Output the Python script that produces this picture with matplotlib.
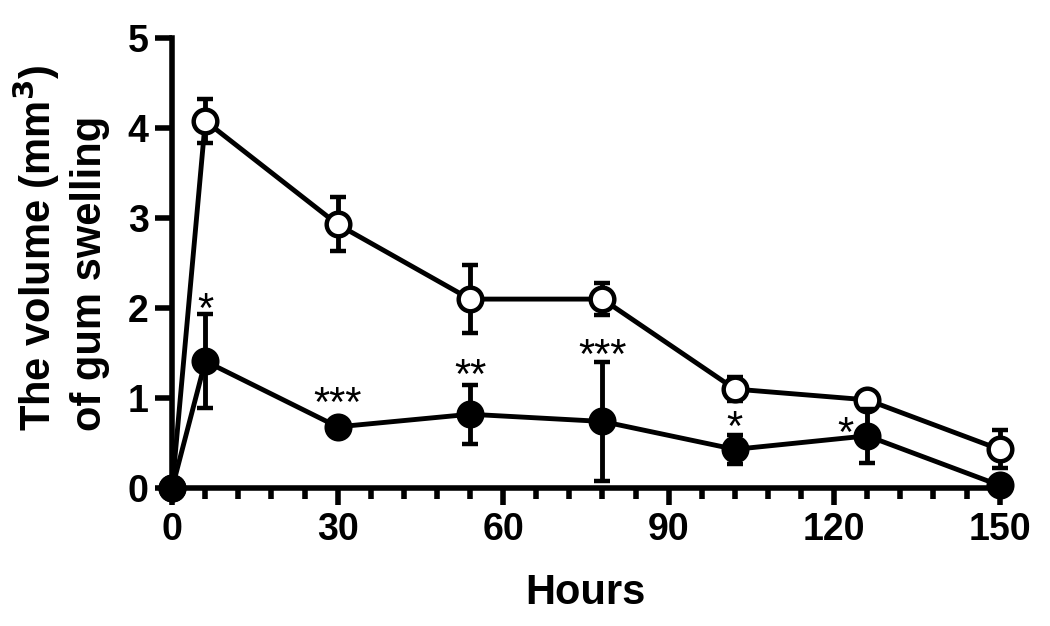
import matplotlib
matplotlib.use("Agg")
import matplotlib.pyplot as plt
from matplotlib.ticker import MultipleLocator

plt.rcParams['font.family'] = ['Liberation Sans', 'DejaVu Sans']
plt.rcParams['font.weight'] = 'bold'

hours = [0, 6, 30, 54, 78, 102, 126, 150]

# open circles (control)
open_vals = [0, 4.08, 2.93, 2.10, 2.10, 1.10, 0.98, 0.43]
open_err = [0, 0.24, 0.30, 0.38, 0.18, 0.13, 0.05, 0.21]

# filled circles (treated)
filled_vals = [0, 1.41, 0.68, 0.82, 0.74, 0.43, 0.58, 0.03]
filled_err = [0, 0.52, 0.08, 0.33, 0.66, 0.16, 0.30, 0.05]

# significance marks
star_x = [6, 30, 54, 78, 102, 122]
star_y = [1.85, 0.80, 1.11, 1.33, 0.53, 0.47]
star_txt = ["*", "***", "**", "***", "*", "*"]

fig = plt.figure(figsize=(10.5, 6.26), dpi=100)
ax = fig.add_axes([0.164, 0.2204, 0.788, 0.7186])

ax.errorbar(hours, open_vals, yerr=open_err, color='black', lw=3.5,
            marker='o', ms=17, mfc='white', mec='black', mew=3.2,
            elinewidth=3.5, capsize=5.5, capthick=3.5, zorder=3)
ax.errorbar(hours, filled_vals, yerr=filled_err, color='black', lw=3.5,
            marker='o', ms=17, mfc='black', mec='black', mew=3.2,
            elinewidth=3.5, capsize=5.5, capthick=3.5, zorder=4)

for x, y, t in zip(star_x, star_y, star_txt):
    ax.text(x, y, t, ha='center', va='baseline', fontsize=30, fontweight='normal')

ax.set_xlim(0, 150)
ax.set_ylim(0, 5)
ax.spines['top'].set_visible(False)
ax.spines['right'].set_visible(False)
ax.spines['left'].set_linewidth(4)
ax.spines['bottom'].set_linewidth(4)
ax.xaxis.set_major_locator(MultipleLocator(30))
ax.xaxis.set_minor_locator(MultipleLocator(6))
ax.yaxis.set_major_locator(MultipleLocator(1))
ax.tick_params(axis='both', which='major', length=12, width=4, labelsize=27, pad=5)
ax.tick_params(axis='x', which='minor', length=8, width=4)
for lab in ax.get_xticklabels() + ax.get_yticklabels():
    lab.set_fontweight('bold')

ax.set_xlabel("Hours", fontsize=30, fontweight='bold', labelpad=18)
ax.set_ylabel("The volume (mm$^3$)\nof gum swelling", fontsize=30,
              fontweight='bold', linespacing=1.27, multialignment='left')
ax.yaxis.set_label_coords(-0.075, 0.533)

for a in ax.get_children():
    try:
        a.set_clip_on(False)
    except Exception:
        pass

fig.savefig("out.png", dpi=100)
